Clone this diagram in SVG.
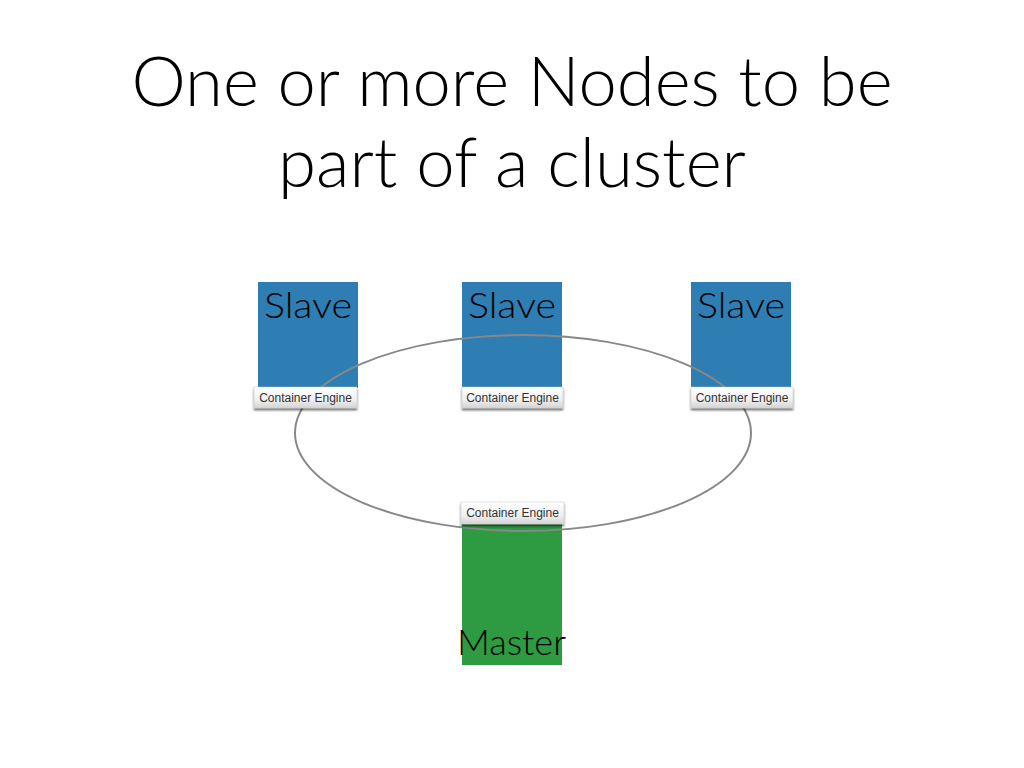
<svg xmlns="http://www.w3.org/2000/svg" width="1024" height="768" viewBox="0 0 1024 768">
  <defs>
    <linearGradient id="barGrad" x1="0" y1="0" x2="0" y2="1">
      <stop offset="0" stop-color="#ffffff"/>
      <stop offset="0.6" stop-color="#f0f0f0"/>
      <stop offset="1" stop-color="#d4d4d4"/>
    </linearGradient>
    <filter id="shadow" x="-10%" y="-20%" width="120%" height="160%">
      <feGaussianBlur in="SourceAlpha" stdDeviation="1.2"/>
      <feOffset dx="0" dy="2" result="b"/>
      <feComponentTransfer><feFuncA type="linear" slope="0.6"/></feComponentTransfer>
      <feMerge><feMergeNode/><feMergeNode in="SourceGraphic"/></feMerge>
    </filter>
    <style>
      .title { font-family: "Lato", "Liberation Sans", Arial, sans-serif; font-weight: 300; font-size: 68px; fill: #000; text-anchor: middle; }
      .slave { fill: #2e7db3; }
      .master { fill: #2e9a42; }
      .lbl { font-family: "Lato", "Liberation Sans", Arial, sans-serif; font-weight: 300; font-size: 35px; fill: #000; text-anchor: middle; }
      .bar { fill: url(#barGrad); stroke: #c8c8c8; stroke-width: 0.5; filter: url(#shadow); }
      .ce { font-family: "Liberation Sans", Arial, sans-serif; font-size: 12px; fill: #333; text-anchor: middle; }
      .ring { fill: none; stroke: #888; stroke-width: 2; }
    </style>
  </defs>
  <rect width="1024" height="768" fill="#fff"/>
  <text class="title" x="512" y="106" textLength="761" lengthAdjust="spacingAndGlyphs">One or more Nodes to be</text>
  <text class="title" x="512" y="187" textLength="468" lengthAdjust="spacingAndGlyphs">part of a cluster</text>

  <g id="slave1-body"><rect class="slave" x="258" y="282" width="100" height="106"/><text class="lbl" x="308" y="318" textLength="88" lengthAdjust="spacingAndGlyphs">Slave</text></g>
  <g id="slave2-body"><rect class="slave" x="462" y="282" width="100" height="106"/><text class="lbl" x="512" y="318" textLength="88" lengthAdjust="spacingAndGlyphs">Slave</text></g>
  <g id="slave3-body"><rect class="slave" x="691" y="282" width="100" height="106"/><text class="lbl" x="741" y="318" textLength="88" lengthAdjust="spacingAndGlyphs">Slave</text></g>
  <g id="master-body"><rect class="master" x="462" y="523" width="100" height="142"/></g>

  <g id="connectors">
    <ellipse class="ring" cx="523" cy="433" rx="228" ry="98"/>
  </g>

  <g id="slave1"><rect class="bar" x="254" y="387" width="103" height="21"/><text class="ce" x="305.5" y="402">Container Engine</text></g>
  <g id="slave2"><rect class="bar" x="462" y="387" width="101" height="21"/><text class="ce" x="512.5" y="402">Container Engine</text></g>
  <g id="slave3"><rect class="bar" x="691" y="387" width="102" height="21"/><text class="ce" x="742" y="402">Container Engine</text></g>
  <g id="master"><rect class="bar" x="461" y="502" width="103" height="22"/><text class="ce" x="512.5" y="517">Container Engine</text>
    <text class="lbl" x="511.5" y="655" textLength="109" lengthAdjust="spacingAndGlyphs">Master</text></g>
</svg>
